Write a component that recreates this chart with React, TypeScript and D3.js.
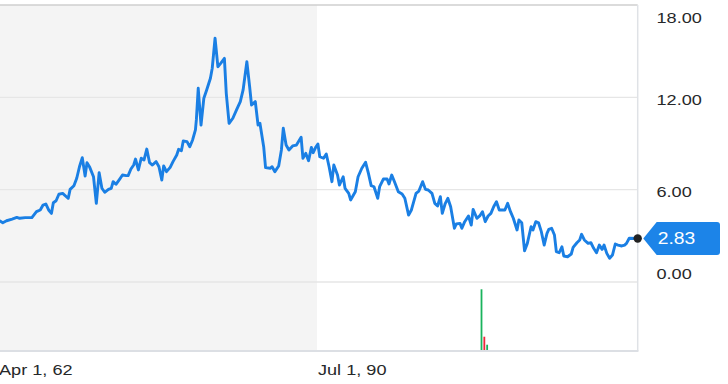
import React from "react";
import * as d3 from "d3";

const months: string[] = [
  "1962-04","1962-07","1962-11","1963-05","1963-10","1964-01","1964-07","1965-02","1965-07","1965-11",
  "1966-02","1966-05","1966-08","1966-11","1967-01","1967-04","1967-07","1967-11","1968-03","1968-05",
  "1968-07","1968-11","1969-02","1969-05","1969-08","1969-11","1970-01","1970-04","1970-08","1970-11",
  "1971-02","1971-05","1971-08","1971-12","1972-03","1972-05","1972-08","1972-12","1973-03","1973-07",
  "1973-09","1973-12","1974-03","1974-05","1974-08","1974-11","1975-02","1975-05","1975-08","1975-11",
  "1976-03","1976-06","1976-09","1976-11","1977-02","1977-06","1977-09","1978-01","1978-03","1978-06",
  "1978-08","1978-12","1979-03","1979-06","1979-09","1979-10","1979-12","1980-03","1980-06","1980-09",
  "1981-01","1981-03","1981-06","1981-09","1981-12","1982-04","1982-06","1982-09","1983-01","1983-05",
  "1983-09","1983-12","1984-04","1984-07","1984-09","1985-01","1985-04","1985-06","1985-10","1985-12",
  "1986-05","1986-07","1986-10","1987-02","1987-05","1987-07","1987-10","1988-01","1988-05","1988-09",
  "1989-02","1989-04","1989-07","1989-10","1990-01","1990-03","1990-06","1990-08","1990-10","1991-02",
  "1991-05","1991-08","1991-11","1992-01","1992-05","1992-07","1992-11","1993-01","1993-05","1993-07",
  "1993-12","1994-03","1994-07","1994-11","1995-02","1995-05","1995-08","1995-12","1996-02","1996-06",
  "1996-10","1996-12","1997-03","1997-06","1997-10","1998-02","1998-05","1998-09","1998-12","1999-05",
  "1999-08","1999-12","2000-03","2000-06","2000-10","2001-01","2001-04","2001-07","2001-09","2001-12",
  "2002-03","2002-06","2002-10","2002-12","2003-04","2003-06","2003-09","2004-01","2004-04","2004-06",
  "2004-10","2005-01","2005-04","2005-07","2005-10","2006-01","2006-04","2006-07","2006-10","2007-02",
  "2007-04","2007-07","2007-10","2008-01","2008-05","2008-07","2008-10","2009-01","2009-04","2009-08",
  "2009-10","2010-01","2010-04","2010-07","2010-10","2011-01","2011-03","2011-06","2011-09","2011-11",
  "2012-02","2012-05","2012-07","2012-11","2013-03","2013-05","2013-09","2013-12","2014-02","2014-05",
  "2014-09","2014-12","2015-03","2015-06","2015-09","2015-12","2016-02","2016-05","2016-08","2016-11",
  "2017-02","2017-05","2017-09","2017-12","2018-02","2018-05","2019-02",
];

const prices: number[] = [
  3.96,3.85,3.98,4.09,4.20,4.14,4.18,4.18,4.57,4.68,
  5.00,5.07,4.68,4.46,5.15,5.28,5.70,5.76,5.54,5.44,
  6.02,6.26,6.74,7.49,8.08,6.89,7.75,7.45,6.84,5.11,
  7.10,6.09,5.83,6.02,6.09,6.52,6.35,6.69,6.95,6.91,
  6.91,7.34,7.60,7.99,7.28,8.04,7.93,8.64,7.75,7.60,
  7.82,7.49,6.63,7.54,7.17,7.45,7.82,8.25,8.62,8.53,
  9.16,9.12,8.79,9.23,9.88,10.53,12.59,10.20,11.94,12.48,
  13.24,13.89,15.84,13.99,14.21,14.53,12.26,10.31,10.64,11.18,
  11.72,12.48,14.32,12.69,11.50,11.72,10.20,10.31,8.79,7.43,
  7.39,7.49,7.17,7.54,8.58,9.99,8.90,8.58,8.84,8.90,
  9.40,8.04,8.36,7.88,8.75,8.40,8.79,8.97,8.14,8.04,
  8.32,7.49,6.52,7.60,6.95,6.30,6.84,6.09,5.76,5.33,
  5.87,6.84,7.39,7.78,7.06,6.26,6.19,5.44,6.19,6.69,
  6.69,6.37,6.95,6.50,5.87,5.72,5.44,4.35,4.68,5.76,
  5.91,6.52,6.02,5.98,5.76,5.11,4.94,5.54,4.46,5.07,
  5.44,4.89,3.49,3.77,3.81,3.49,3.92,4.29,3.70,4.72,
  4.14,4.29,4.57,3.92,4.29,4.46,4.89,5.22,4.68,4.68,
  4.68,5.11,4.57,4.14,3.38,4.03,3.85,2.03,2.51,3.59,
  3.38,3.92,3.85,3.27,2.40,3.16,3.42,3.49,3.05,1.97,
  1.90,2.29,1.69,1.64,1.82,2.25,2.55,2.73,3.10,2.73,
  2.51,2.55,2.19,1.90,2.40,2.12,2.40,1.86,1.54,1.75,
  2.47,2.40,2.34,2.40,2.51,2.84,2.83,
];

const volumeMonths: string[] = ["2005-03", "2005-06", "2005-09"];
const volumes: number[] = [4.32, 1.0, 0.44];
const volumeUp: boolean[] = [true, false, true];

const yTicks: number[] = [0, 6, 12, 18];
const xTickDates: string[] = ["1962-04", "1990-07"];
const xTickLabels: string[] = ["Apr 1, 62", "Jul 1, 90"];
const shadeEnd = "1990-07";
const domainStart = "1962-04";
const domainEnd = "2019-02";

const W = 728;
const H = 384;
const PLOT_L = 0;
const PLOT_R = 637.7;
const PLOT_T = 5;
const PRICE_B = 282;
const VOL_B = 351;
const SX = 1.17;
const FONT = "'Liberation Sans', Arial, Helvetica, sans-serif";
const BLUE = "#1a7fe4";

export default function App() {
  const parse = d3.utcParse("%Y-%m")!;
  const dates = months.map((m) => parse(m) as Date);
  const x = d3
    .scaleUtc()
    .domain([parse(domainStart) as Date, parse(domainEnd) as Date])
    .range([PLOT_L, PLOT_R]);
  const y = d3.scaleLinear().domain([0, 18]).range([PRICE_B, PLOT_T]);
  const vMax = (d3.max(volumes) ?? 1) * 1.118;
  const yv = d3.scaleLinear().domain([0, vMax]).range([VOL_B, PRICE_B]);

  const pts = dates.map((d, i) => [x(d), y(prices[i])] as [number, number]);
  const line = d3.line<[number, number]>().x((p) => p[0]).y((p) => p[1]);
  const path = line(pts) || "";

  const lastX = x(dates[dates.length - 1]);
  const lastV = prices[prices.length - 1];
  const lastY = y(lastV);

  const shadeX = x(parse(shadeEnd) as Date);

  const tipX = lastX + 5.6;
  const tagL = lastX + 19;
  const tagR = 720;
  const tagT = lastY - 16.5;
  const tagB = lastY + 16.5;
  const r = 3;
  const tagPath = `M${tipX},${lastY} L${tagL},${tagT} L${tagR - r},${tagT} Q${tagR},${tagT} ${tagR},${tagT + r} L${tagR},${tagB - r} Q${tagR},${tagB} ${tagR - r},${tagB} L${tagL},${tagB} Z`;

  return (
    <svg
      width={W}
      height={H}
      style={{ position: "fixed", left: 0, top: 0, background: "#fff" }}
      fontFamily={FONT}
    >
      <rect x={PLOT_L} y={PLOT_T} width={shadeX - PLOT_L} height={VOL_B - PLOT_T} fill="#f4f4f4" />
      {yTicks.map((t) => (
        <line
          key={"g" + t}
          x1={PLOT_L}
          x2={PLOT_R}
          y1={y(t)}
          y2={y(t)}
          stroke={t === 18 ? "#cfcfcf" : "#e6e6e6"}
          strokeWidth={t === 18 || t === 0 ? 1.6 : 1.2}
        />
      ))}
      <line x1={PLOT_R} x2={PLOT_R} y1={PLOT_T} y2={VOL_B} stroke="#dfe2e6" strokeWidth={1.5} />
      <line x1={PLOT_L} x2={PLOT_R + 0.75} y1={VOL_B} y2={VOL_B} stroke="#dcdfe4" strokeWidth={2} />

      {volumeMonths.map((m, i) => {
        const bx = x(parse(m) as Date);
        return (
          <rect
            key={"v" + i}
            x={bx - 0.9}
            y={yv(volumes[i])}
            width={1.8}
            height={VOL_B - 1 - yv(volumes[i])}
            fill={volumeUp[i] ? "#1ab35c" : "#f2263a"}
          />
        );
      })}

      <path d={path} fill="none" stroke={BLUE} strokeWidth={2.9} strokeLinejoin="round" strokeLinecap="round" />

      <circle cx={lastX} cy={lastY} r={4.2} fill="#232323" />

      <path d={tagPath} fill="#1c84e8" />
      <text
        transform={`translate(${tagL + 1},${lastY + 6}) scale(${SX},1)`}
        fontSize={16.5}
        fill="#fff"
      >
        {lastV.toFixed(2)}
      </text>

      {yTicks.map((t) => {
        const by = Math.min(Math.max(y(t) + 7.5, 23), 278.7);
        return (
          <text
            key={"yl" + t}
            transform={`translate(${656.5},${by}) scale(${SX},1)`}
            fontSize={15.5}
            fill="#26282a"
          >
            {t.toFixed(2)}
          </text>
        );
      })}

      {xTickDates.map((d, i) => (
        <text
          key={"xl" + i}
          transform={`translate(${x(parse(d) as Date) + (i === 0 ? -1 : 1)},${375}) scale(${SX},1)`}
          fontSize={15.5}
          fill="#26282a"
        >
          {xTickLabels[i]}
        </text>
      ))}
    </svg>
  );
}
